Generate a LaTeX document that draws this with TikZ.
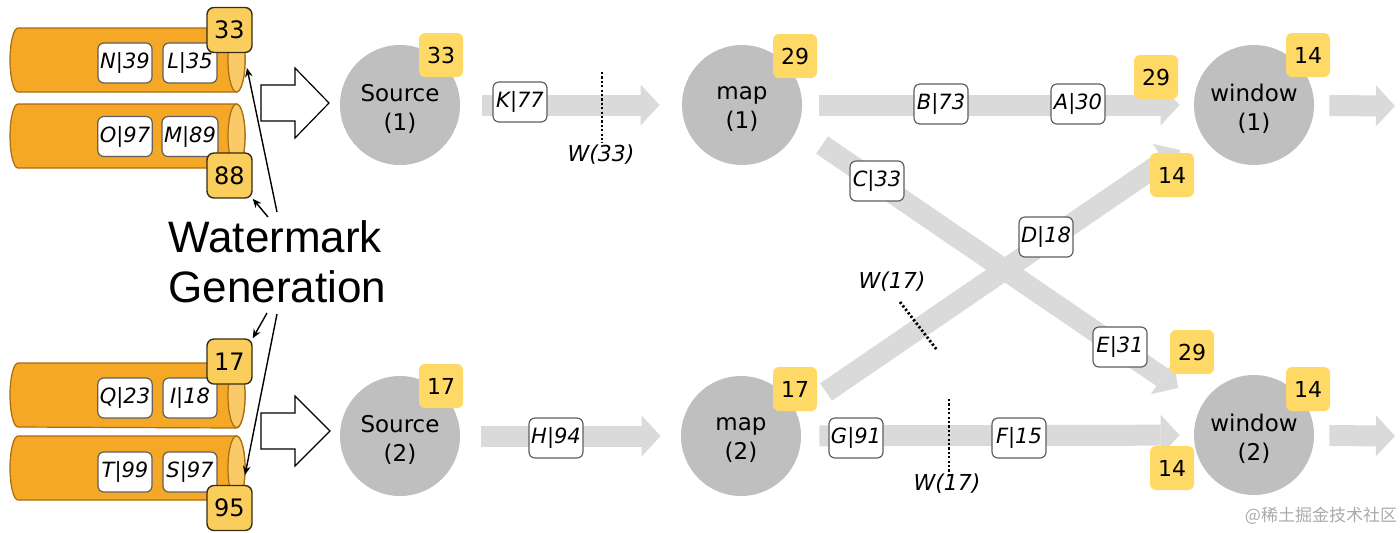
\documentclass[tikz,border=0pt]{standalone}
\usepackage{fontspec}
\setmainfont{DejaVu Sans}
\newfontfamily\hf{Liberation Sans}
\newfontfamily\cjk{Noto Sans CJK SC}
\usetikzlibrary{arrows.meta}
\definecolor{cylfill}{RGB}{245,168,38}
\definecolor{cyledge}{RGB}{170,108,15}
\definecolor{cylface}{RGB}{250,202,104}
\definecolor{tsfill}{RGB}{250,206,92}
\definecolor{tsedge}{RGB}{55,45,20}
\definecolor{ybox}{RGB}{255,217,102}
\definecolor{opgray}{RGB}{191,191,191}
\definecolor{flowgray}{RGB}{218,218,218}
\definecolor{lbedge}{RGB}{95,95,95}
\definecolor{wmgray}{RGB}{170,170,170}
\newcommand\mycyl[3]{%
  \draw[cylbody] (236.5,#1) -- (18,#1) arc[start angle=90,end angle=270,x radius=4pt,y radius=16pt]
    -- (236.5,#2) arc[start angle=-90,end angle=90,x radius=4.25pt,y radius=16pt] -- cycle;
  \draw[cylend] (236.5,#3) ellipse[x radius=4.25pt,y radius=16pt];}
\begin{document}
\begin{tikzpicture}[x=0.5pt,y=-0.5pt,
  cylbody/.style={fill=cylfill,draw=cyledge,line width=0.6pt},
  cylend/.style={fill=cylface,draw=cyledge,line width=0.6pt},
  rec/.style={draw=lbedge,fill=white,rounded corners=3pt,line width=0.6pt,
    minimum width=27pt,minimum height=20pt,inner sep=1pt,
    font=\fontsize{10.5}{12}\selectfont\itshape},
  tsbox/.style={draw=tsedge,fill=tsfill,rounded corners=3.5pt,line width=0.7pt,
    minimum size=22.5pt,inner sep=0pt,font=\fontsize{12}{14}\selectfont},
  ybx/.style={fill=ybox,rounded corners=3pt,minimum size=22pt,inner sep=0pt,
    font=\fontsize{11}{13}\selectfont},
  op/.style={circle,fill=opgray,minimum size=60pt,inner sep=0pt},
  optext/.style={align=center,inner sep=0pt,yshift=-2pt,
    font=\fontsize{11.5}{14.5}\selectfont},
  flow/.style={draw=flowgray,line width=10.5pt,
    -{Triangle[length=9.5pt,width=20.5pt,line width=0pt]}},
  hollow/.style={draw=black,fill=white,line width=0.6pt,line join=miter},
  dotln/.style={line width=1.4pt,dash pattern=on 1.1pt off 1.1pt},
  wtxt/.style={font=\fontsize{11}{13}\selectfont\itshape,inner sep=0pt},
  ptr/.style={line width=0.7pt,-{Stealth[length=4.5pt,width=3.8pt]}},
  big/.style={font=\hf\fontsize{22}{25}\selectfont,inner sep=0pt,anchor=base west}
]
\useasboundingbox (0,0) rectangle (1400,532);

% cylinders
\mycyl{28}{92}{60}
\mycyl{104}{168}{136}
\mycyl{363}{428}{395.5}
\mycyl{436}{500}{468}

\node[rec] (n39) at (125,63) {N|39};
\node[rec] (l35) at (190,63) {L|35};
\node[rec] (o97) at (125,136.5) {O|97};
\node[rec] (m89) at (190,136.5) {M|89};
\node[rec] (q23) at (125,398) {Q|23};
\node[rec] (i18) at (190,398) {I|18};
\node[rec] (t99) at (125,472) {T|99};
\node[rec] (s97) at (190,472) {S|97};

\node[tsbox] (ts1) at (229.5,30) {33};
\node[tsbox] (ts2) at (229.5,175.5) {88};
\node[tsbox] (ts3) at (229.5,361.5) {17};
\node[tsbox] (ts4) at (229.5,508) {95};

% hollow arrows
\draw[hollow] (261,85) -- (295,85) -- (295,68) -- (329,103) -- (295,138) -- (295,121) -- (261,121) -- cycle;
\draw[hollow] (261,413) -- (295,413) -- (295,396) -- (330,431) -- (295,466) -- (295,449) -- (261,449) -- cycle;

% operators
\node[op,label={[optext]center:{Source\\(1)}}] (src1) at (400,105) {};
\node[op,label={[optext]center:{Source\\(2)}}] (src2) at (400,436) {};
\node[op,label={[optext]center:{map\\(1)}}] (map1) at (742,105) {};
\node[op,label={[optext]center:{map\\(2)}}] (map2) at (741,436) {};
\node[op,label={[optext]center:{window\\(1)}}] (win1) at (1254,105) {};
\node[op,label={[optext]center:{window\\(2)}}] (win2) at (1254,435) {};

% flows
\coordinate (out1) at (1395,106);
\coordinate (out2) at (1395,436);
\coordinate (cs) at (822,145);
\coordinate (ce) at (1178,388);
\coordinate (ds) at (826,392);
\coordinate (de) at (1180,150);
\draw[flow,shorten <=11pt,shorten >=11pt] (src1) -- (map1);
\draw[flow,shorten <=8.5pt,shorten >=7pt] (map1) -- (win1);
\draw[flow,shorten <=7.5pt] (win1) -- (out1);
\draw[flow,shorten <=10.5pt,shorten >=10pt] (src2) -- (map2);
\draw[flow,shorten <=9pt,shorten >=7pt] (map2) -- (win2);
\draw[flow,shorten <=7.5pt] (win2) -- (out2);
\draw[flow] (cs) -- (ce);
\draw[flow] (ds) -- (de);

% watermarks
\coordinate (w1a) at (602,72);
\coordinate (w1b) at (602,143);
\draw[dotln] (w1a) -- (w1b);
\node[wtxt] (w33) at (601,155) {W(33)};
\coordinate (w2a) at (900,302);
\coordinate (w2b) at (937,350);
\draw[dotln] (w2a) -- (w2b);
\node[wtxt] (w17a) at (892,282) {W(17)};
\coordinate (w3a) at (949,399);
\coordinate (w3b) at (949,475);
\draw[dotln] (w3a) -- (w3b);
\node[wtxt] (w17b) at (947,484) {W(17)};

% records on streams
\node[rec] (k77) at (520,102) {K|77};
\node[rec] (b73) at (941,104) {B|73};
\node[rec] (a30) at (1078,104) {A|30};
\node[rec] (c33) at (877,181) {C|33};
\node[rec] (d18) at (1046,237) {D|18};
\node[rec] (e31) at (1120,347) {E|31};
\node[rec] (h94) at (556,438) {H|94};
\node[rec] (g91) at (856,438) {G|91};
\node[rec] (f15) at (1019,438) {F|15};

% yellow boxes
\node[ybx] (y1) at (441,55) {33};
\node[ybx] (y2) at (441,386) {17};
\node[ybx] (y3) at (795,56) {29};
\node[ybx] (y4) at (795,389) {17};
\node[ybx] (y5) at (1308,55) {14};
\node[ybx] (y6) at (1308,389) {14};
\node[ybx] (y7) at (1156,77) {29};
\node[ybx] (y8) at (1172,175) {14};
\node[ybx] (y9) at (1192,352) {29};
\node[ybx] (y10) at (1172,468) {14};

% watermark generation
\node[big] (wm1) at (168,252) {Watermark};
\node[big] (wm2) at (168,302) {Generation};
\coordinate (f1) at (247,68);
\coordinate (f4) at (245,475);
\coordinate (p1) at (277,212);
\coordinate (p2) at (268,217);
\coordinate (p3) at (267,313);
\coordinate (p4) at (277,314);
\draw[ptr] (p1) -- (f1);
\draw[ptr] (p2) -- (ts2.south east);
\draw[ptr] (p3) -- (ts3.north east);
\draw[ptr] (p4) -- (f4);

\node[font=\cjk\fontsize{8.5}{10}\selectfont,text=wmgray,inner sep=0pt] (logo) at (1321,516) {@稀土掘金技术社区};
\end{tikzpicture}
\end{document}
